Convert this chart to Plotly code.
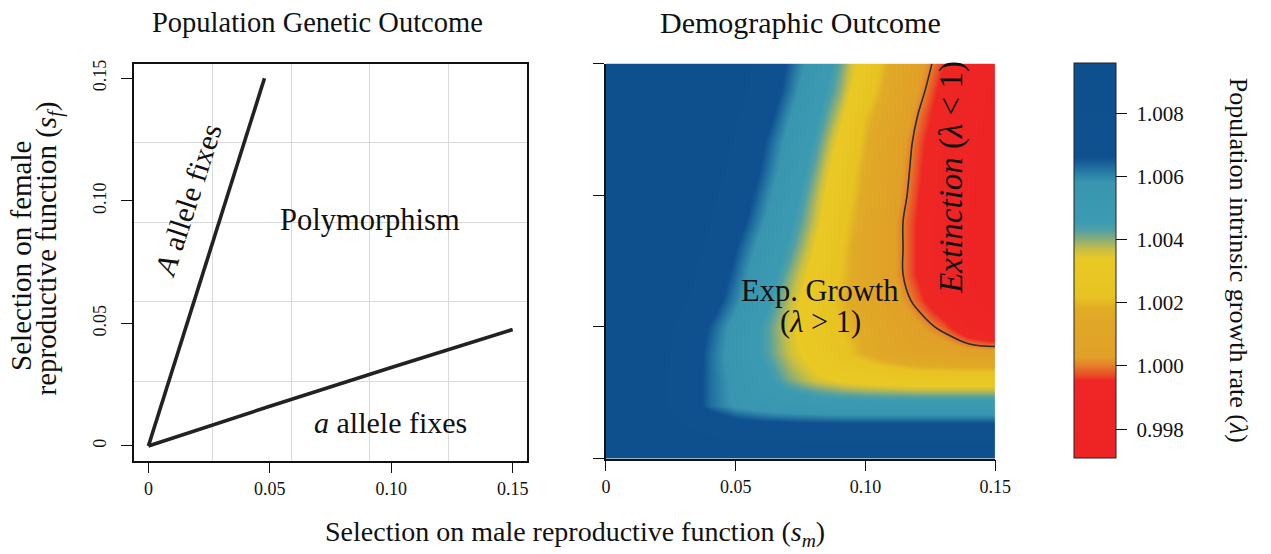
import plotly.graph_objects as go

W, H = 1271, 554
FONT = "Liberation Serif"

# ---------------- data ----------------
tick_vals = [0.0, 0.05, 0.10, 0.15]
tick_text = ["0", "0.05", "0.10", "0.15"]

# left panel: boundaries between outcomes
upper_sm = [0.0, 0.016, 0.032, 0.0455, 0.0478]
upper_sf = [0.0, 0.050, 0.100, 0.142, 0.150]
lower_sm = [0.0, 0.05, 0.10, 0.15]
lower_sf = [0.0, 0.0162, 0.032, 0.0475]

# right panel: population growth rate grid (rows = s_f, columns = s_m)
sm_grid = [0.00, 0.01, 0.02, 0.03, 0.04, 0.05, 0.06, 0.07,
           0.08, 0.09, 0.10, 0.11, 0.12, 0.13, 0.14, 0.15]
sf_grid = [0.00, 0.01, 0.02, 0.03, 0.04, 0.05, 0.06, 0.07,
           0.08, 0.09, 0.10, 0.11, 0.12, 0.13, 0.14, 0.15]
lam = [
    [1.0096, 1.0096, 1.0095, 1.0094, 1.0093, 1.0092, 1.0091, 1.0091, 1.0090, 1.0090, 1.0090, 1.0090, 1.0090, 1.0090, 1.0090, 1.0090],
    [1.0096, 1.0095, 1.0091, 1.0084, 1.0079, 1.0076, 1.0075, 1.0075, 1.0075, 1.0075, 1.0075, 1.0075, 1.0075, 1.0075, 1.0075, 1.0075],
    [1.0096, 1.0094, 1.0085, 1.0073, 1.0063, 1.0057, 1.0054, 1.0052, 1.0051, 1.0050, 1.0050, 1.0050, 1.0050, 1.0050, 1.0050, 1.0050],
    [1.0096, 1.0096, 1.0084, 1.0073, 1.0063, 1.0056, 1.0049, 1.0041, 1.0036, 1.0033, 1.0031, 1.0030, 1.0029, 1.0029, 1.0029, 1.0029],
    [1.0096, 1.0096, 1.0086, 1.0074, 1.0063, 1.0054, 1.0045, 1.0037, 1.0031, 1.0024, 1.0018, 1.0013, 1.0009, 1.0008, 1.0006, 1.0006],
    [1.0096, 1.0096, 1.0088, 1.0076, 1.0065, 1.0055, 1.0045, 1.0036, 1.0029, 1.0022, 1.0016, 1.0010, 1.0004, 0.9998, 0.9989, 0.9983],
    [1.0096, 1.0096, 1.0094, 1.0082, 1.0071, 1.0060, 1.0049, 1.0038, 1.0029, 1.0020, 1.0013, 1.0006, 0.9998, 0.9989, 0.9980, 0.9971],
    [1.0096, 1.0096, 1.0096, 1.0086, 1.0074, 1.0063, 1.0052, 1.0041, 1.0031, 1.0022, 1.0013, 1.0004, 0.9995, 0.9986, 0.9977, 0.9971],
    [1.0096, 1.0096, 1.0096, 1.0089, 1.0078, 1.0066, 1.0055, 1.0045, 1.0034, 1.0023, 1.0013, 1.0004, 0.9995, 0.9986, 0.9977, 0.9971],
    [1.0096, 1.0096, 1.0096, 1.0092, 1.0081, 1.0070, 1.0059, 1.0048, 1.0037, 1.0025, 1.0014, 1.0004, 0.9995, 0.9986, 0.9977, 0.9971],
    [1.0096, 1.0096, 1.0096, 1.0096, 1.0084, 1.0073, 1.0062, 1.0051, 1.0039, 1.0027, 1.0016, 1.0006, 0.9996, 0.9987, 0.9978, 0.9971],
    [1.0096, 1.0096, 1.0096, 1.0096, 1.0088, 1.0076, 1.0065, 1.0054, 1.0042, 1.0029, 1.0017, 1.0007, 0.9997, 0.9988, 0.9979, 0.9971],
    [1.0096, 1.0096, 1.0096, 1.0096, 1.0090, 1.0079, 1.0067, 1.0056, 1.0045, 1.0032, 1.0019, 1.0008, 0.9998, 0.9989, 0.9980, 0.9971],
    [1.0096, 1.0096, 1.0096, 1.0096, 1.0094, 1.0082, 1.0071, 1.0059, 1.0048, 1.0036, 1.0021, 1.0011, 1.0000, 0.9991, 0.9982, 0.9973],
    [1.0096, 1.0096, 1.0096, 1.0096, 1.0096, 1.0086, 1.0074, 1.0063, 1.0051, 1.0040, 1.0026, 1.0014, 1.0003, 0.9993, 0.9984, 0.9975],
    [1.0096, 1.0096, 1.0096, 1.0096, 1.0096, 1.0088, 1.0076, 1.0065, 1.0054, 1.0042, 1.0029, 1.0016, 1.0005, 0.9996, 0.9987, 0.9978],
]
lam_min, lam_max = 0.9971, 1.0096
cbar_vals = [0.998, 1.000, 1.002, 1.004, 1.006, 1.008]
cbar_text = ["0.998", "1.000", "1.002", "1.004", "1.006", "1.008"]

# colour stops (value, colour)
stop_vals = [0.9971, 0.99955, 0.99975, 1.00005, 1.0003, 1.0018, 1.0022, 1.0034,
             1.0037, 1.0040, 1.0043, 1.0046, 1.0058, 1.0061, 1.0064, 1.0066, 1.0096]
stop_cols = ["#EE2424", "#EE2624", "#EA5027", "#E4832A", "#E1A028", "#E0AA26", "#E8C323", "#E9C924",
             "#C8BE45", "#8DAE76", "#52A0A4", "#3B9AB2", "#3A96B0", "#2A7FA7", "#1A6399", "#0F5190", "#0E4F8D"]
colorscale = [[(v - lam_min) / (lam_max - lam_min), c] for v, c in zip(stop_vals, stop_cols)]


def fx(p):
    return p / W


def fy(p):
    return 1 - p / H


fig = go.Figure()

line_style = dict(color="#222222", width=3.6)
fig.add_trace(go.Scatter(x=upper_sm, y=upper_sf, mode="lines", line=line_style,
                         xaxis="x", yaxis="y", showlegend=False, hoverinfo="skip"))
fig.add_trace(go.Scatter(x=lower_sm, y=lower_sf, mode="lines", line=line_style,
                         xaxis="x", yaxis="y", showlegend=False, hoverinfo="skip"))

NB = "\u00a0"
fig.add_trace(go.Heatmap(
    x=sm_grid, y=sf_grid, z=lam, xaxis="x2", yaxis="y2",
    zmin=lam_min, zmax=lam_max, zsmooth="best", colorscale=colorscale,
    colorbar=dict(
        x=fx(1087), xanchor="left", xpad=0, ypad=0,
        y=fy(258), yanchor="middle", len=398 / H, lenmode="fraction",
        thickness=42, thicknessmode="pixels",
        outlinewidth=1, outlinecolor="#222222",
        tickmode="array", tickvals=cbar_vals, ticktext=[NB + t for t in cbar_text],
        ticks="outside", ticklen=11, tickwidth=1.3, tickcolor="#111111",
        tickfont=dict(family=FONT, size=21, color="#111111"),
    ),
))
fig.add_trace(go.Contour(
    x=sm_grid, y=sf_grid, z=lam, xaxis="x2", yaxis="y2",
    contours=dict(start=1.0, end=1.0, size=0.001, coloring="none"),
    line=dict(color="#2a2a2a", width=1.6), showscale=False, hoverinfo="skip",
))

tickfont = dict(family=FONT, size=18, color="#111111")
axis_common = dict(ticks="outside", ticklen=11, tickwidth=1.3, tickcolor="#111111",
                   showline=True, linecolor="#111111", linewidth=1.6,
                   zeroline=False, showgrid=False, tickfont=tickfont,
                   tickmode="array", tickvals=tick_vals, ticktext=tick_text)

grid_minor = dict(tick0=0.0264, dtick=0.0324, showgrid=True, gridcolor="#DADADA",
                  gridwidth=1, ticks="")

fig.update_layout(
    width=W, height=H,
    margin=dict(l=0, r=0, t=0, b=0),
    paper_bgcolor="white", plot_bgcolor="white",
    font=dict(family=FONT, color="#111111"),
    showlegend=False,
    xaxis=dict(domain=[fx(131), fx(531)], range=[-0.006, 0.156], anchor="y",
               mirror=True, minor=grid_minor, ticklabelstandoff=0, **axis_common),
    yaxis=dict(domain=[fy(460), fy(60)], range=[-0.006, 0.156], anchor="x",
               mirror=True, minor=grid_minor, tickangle=-90, ticklabelstandoff=8,
               **axis_common),
    xaxis2=dict(domain=[fx(611), fx(1007)], range=[0, 0.15], anchor="y2",
                ticklabelstandoff=0, **axis_common),
    yaxis2=dict(domain=[fy(458), fy(60)], range=[0, 0.15], anchor="x2",
                showticklabels=False, **axis_common),
)

ann = []


def add_text(x, y, text, size, angle=0):
    ann.append(dict(x=fx(x), y=fy(y), xref="paper", yref="paper", text=text,
                    showarrow=False, xanchor="center", yanchor="middle",
                    textangle=angle, font=dict(family=FONT, size=size, color="#111111")))


add_text(318, 19, "Population Genetic Outcome", 28.5)
add_text(809, 19, "Demographic Outcome", 30)
add_text(580, 533, "Selection on male reproductive function (<i>s<sub>m</sub></i>)", 28)
add_text(16, 254, "Selection on female", 29, -90)
add_text(44, 246, "reproductive function (<i>s<sub>f</sub></i>)", 29, -90)
add_text(1255, 258, "Population intrinsic growth rate (<i>λ</i>)", 26, 90)

add_text(186, 197, "<i>A</i> allele fixes", 30, -72)
add_text(371, 218, "Polymorphism", 30.5)
add_text(392, 422, "<i>a</i> allele fixes", 30)
add_text(829, 289, "Exp. Growth", 30.5)
add_text(829, 320, "(<i>λ</i> &gt; 1)", 30.5)
add_text(963, 175, "<i>Extinction</i> (<i>λ</i> &lt; 1)", 33, -90)

fig.update_layout(annotations=ann)

fig.write_html(
    "out.html",
    config={"displayModeBar": False, "responsive": False},
    post_script=("document.documentElement.style.margin='0px';"
                 "document.body.style.margin='0px';"
                 "document.body.style.overflow='hidden';"
                 "document.documentElement.style.overflow='hidden';"),
)
